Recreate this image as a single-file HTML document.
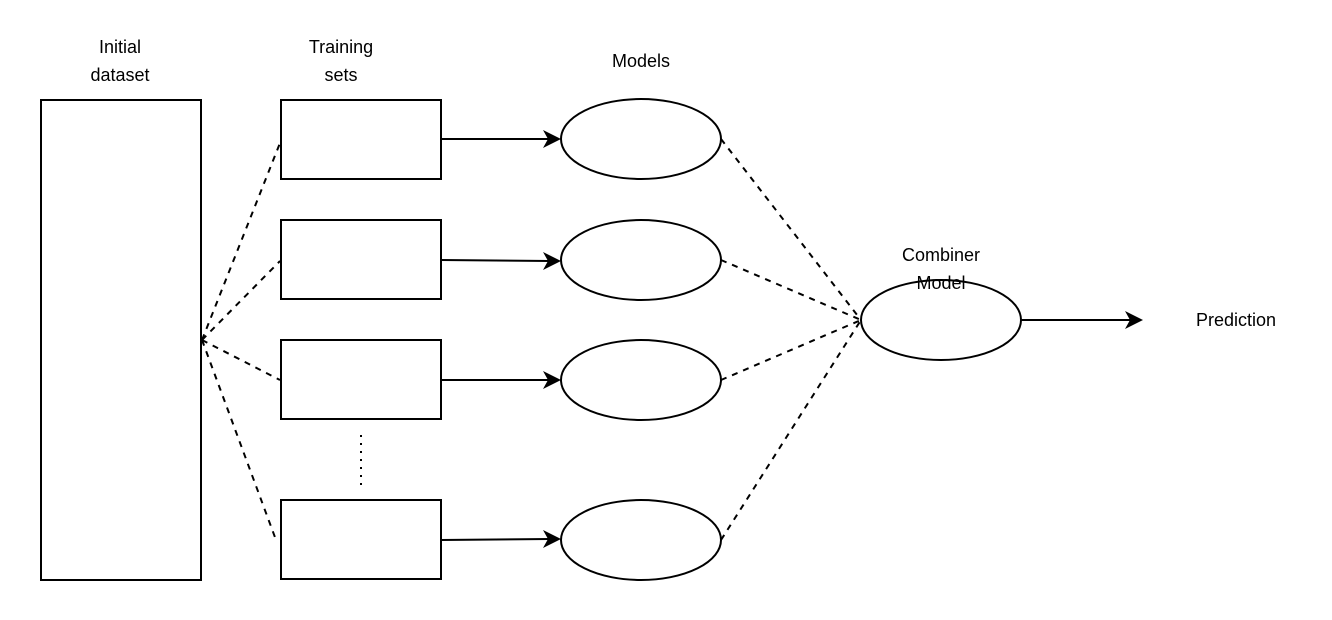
<!DOCTYPE html>
<html><head><style>body{margin:0;background:#fff}</style></head><body>
<svg width="1332" height="615" xmlns="http://www.w3.org/2000/svg" font-family="Liberation Sans, sans-serif" font-size="18">
<g fill="#fff" stroke="#000" stroke-width="2">
<rect x="41" y="100" width="160" height="480"/>
<rect x="281" y="100" width="160" height="79"/>
<rect x="281" y="220" width="160" height="79"/>
<rect x="281" y="340" width="160" height="79"/>
<rect x="281" y="500" width="160" height="79"/>
<ellipse cx="641" cy="139" rx="80" ry="40"/>
<ellipse cx="641" cy="260" rx="80" ry="40"/>
<ellipse cx="641" cy="380" rx="80" ry="40"/>
<ellipse cx="641" cy="540" rx="80" ry="40"/>
<ellipse cx="941" cy="320" rx="80" ry="40"/>
</g>
<g stroke="#000" stroke-width="2" fill="none">
<line x1="441" y1="139" x2="550" y2="139"/>
<line x1="441" y1="260" x2="550" y2="261"/>
<line x1="441" y1="380" x2="550" y2="380"/>
<line x1="441" y1="540" x2="550" y2="539"/>
<line x1="1021" y1="320" x2="1130" y2="320"/>
</g>
<g fill="#000">
<path d="M561,139 L543,130 L548,139 L543,148z"/>
<path d="M561,261 L543,252 L548,261 L543,270z"/>
<path d="M561,380 L543,371 L548,380 L543,389z"/>
<path d="M561,539 L543,530 L548,539 L543,548z"/>
<path d="M1143,320 L1125,311 L1130,320 L1125,329z"/>
</g>
<g stroke="#000" stroke-width="2" stroke-dasharray="6,6" fill="none">
<line x1="202" y1="340" x2="280" y2="143"/>
<line x1="202" y1="340" x2="280" y2="261"/>
<line x1="202" y1="340" x2="280" y2="380"/>
<line x1="202" y1="340" x2="276" y2="540"/>
<line x1="721" y1="139" x2="861" y2="320"/>
<line x1="721" y1="260" x2="861" y2="320"/>
<line x1="721" y1="380" x2="861" y2="320"/>
<line x1="721" y1="540" x2="861" y2="320"/>
<line x1="361" y1="435" x2="361" y2="490" stroke-dasharray="2,6"/>
</g>
<g text-anchor="middle" fill="#000">
<text x="120" y="53">Initial</text><text x="120" y="81">dataset</text>
<text x="341" y="53">Training</text><text x="341" y="81">sets</text>
<text x="641" y="67">Models</text>
<text x="941" y="261">Combiner</text><text x="941" y="289">Model</text>
<text x="1236" y="326">Prediction</text>
</g>
</svg>
</body></html>
